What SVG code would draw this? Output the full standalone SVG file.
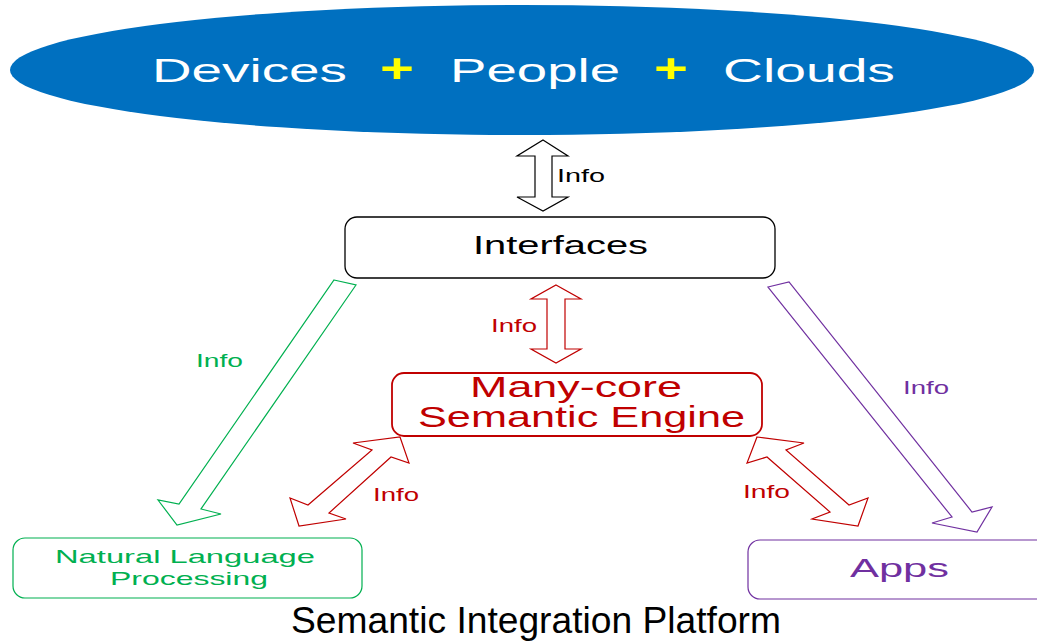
<svg xmlns="http://www.w3.org/2000/svg" width="1037" height="642" viewBox="0 0 1037 642">
<style>
text{font-family:"Liberation Sans",Arial,sans-serif}
.box{fill:#fff}
.arr{fill:#fff;stroke-width:1.2;stroke-linejoin:miter}
</style>
<rect width="1037" height="642" fill="#fff"/>
<g id="cloud">
<ellipse cx="522" cy="70" rx="512" ry="65" fill="#0070C0"/>
<text x="152" y="82" font-size="34" fill="#fff" textLength="195" lengthAdjust="spacingAndGlyphs">Devices</text>
<text x="380" y="82" font-size="40" font-weight="bold" fill="#FFFF00" textLength="34" lengthAdjust="spacingAndGlyphs">+</text>
<text x="450" y="82" font-size="34" fill="#fff" textLength="170" lengthAdjust="spacingAndGlyphs">People</text>
<text x="654" y="82" font-size="40" font-weight="bold" fill="#FFFF00" textLength="34" lengthAdjust="spacingAndGlyphs">+</text>
<text x="723" y="82" font-size="34" fill="#fff" textLength="172" lengthAdjust="spacingAndGlyphs">Clouds</text>
</g>
<g id="interfaces">
<rect x="345" y="217" width="430" height="61" rx="12" class="box" stroke="#000" stroke-width="1.3"/>
<text x="473" y="254" font-size="26" fill="#000" textLength="175" lengthAdjust="spacingAndGlyphs">Interfaces</text>
</g>
<g id="engine">
<rect x="392" y="373" width="370" height="63" rx="12" class="box" stroke="#C00000" stroke-width="1.8"/>
<text x="470" y="397" font-size="29" fill="#C00000" textLength="212" lengthAdjust="spacingAndGlyphs">Many-core</text>
<text x="418" y="427" font-size="29" fill="#C00000" textLength="327" lengthAdjust="spacingAndGlyphs">Semantic Engine</text>
</g>
<g id="nlp">
<rect x="13" y="538" width="349" height="60" rx="12" class="box" stroke="#00B050" stroke-width="1.2"/>
<text x="55" y="563" font-size="19" fill="#00B050" textLength="260" lengthAdjust="spacingAndGlyphs">Natural Language</text>
<text x="110" y="585" font-size="19" fill="#00B050" textLength="158" lengthAdjust="spacingAndGlyphs">Processing</text>
</g>
<g id="apps">
<rect x="748" y="540" width="310" height="59" rx="12" class="box" stroke="#7030A0" stroke-width="1.2"/>
<text x="850" y="577" font-size="26" fill="#7030A0" textLength="99" lengthAdjust="spacingAndGlyphs">Apps</text>
</g>
<g id="title">
<text x="291" y="633" font-size="36" fill="#000" textLength="490" lengthAdjust="spacingAndGlyphs">Semantic Integration Platform</text>
</g>
<g id="connectors">
<polygon class="arr" stroke="#000" points="543,140 568,156 552,156 552,197 568,197 543,211 517,197 535,197 535,156 517,156"/>
<text x="557" y="182" font-size="18" fill="#000" textLength="48" lengthAdjust="spacingAndGlyphs">Info</text>
<polygon class="arr" stroke="#C00000" points="556,285 581,299 565,299 565,349 581,349 556,363 531,349 547,349 547,299 531,299"/>
<text x="491" y="332" font-size="18" fill="#C00000" textLength="46" lengthAdjust="spacingAndGlyphs">Info</text>
<polygon class="arr" stroke="#00B050" points="334,280 356,285 201,509 221,514 177,525 158,500 179,504"/>
<text x="196" y="367" font-size="18" fill="#00B050" textLength="47" lengthAdjust="spacingAndGlyphs">Info</text>
<polygon class="arr" stroke="#7030A0" points="768,287 789,282 972,512 992,507 977,532 932,523 952,517"/>
<text x="903" y="394" font-size="18" fill="#7030A0" textLength="46" lengthAdjust="spacingAndGlyphs">Info</text>
<polygon class="arr" stroke="#C00000" points="400,437 409,463 391,457 329,513 346,519 299,526 290,498 308,505 372,450 353,443"/>
<text x="373" y="501" font-size="18" fill="#C00000" textLength="46" lengthAdjust="spacingAndGlyphs">Info</text>
<polygon class="arr" stroke="#C00000" points="757,437 804,443 786,450 849,505 868,498 858,526 812,519 830,512 767,457 747,463"/>
<text x="743" y="498" font-size="18" fill="#C00000" textLength="47" lengthAdjust="spacingAndGlyphs">Info</text>
</g>
</svg>
